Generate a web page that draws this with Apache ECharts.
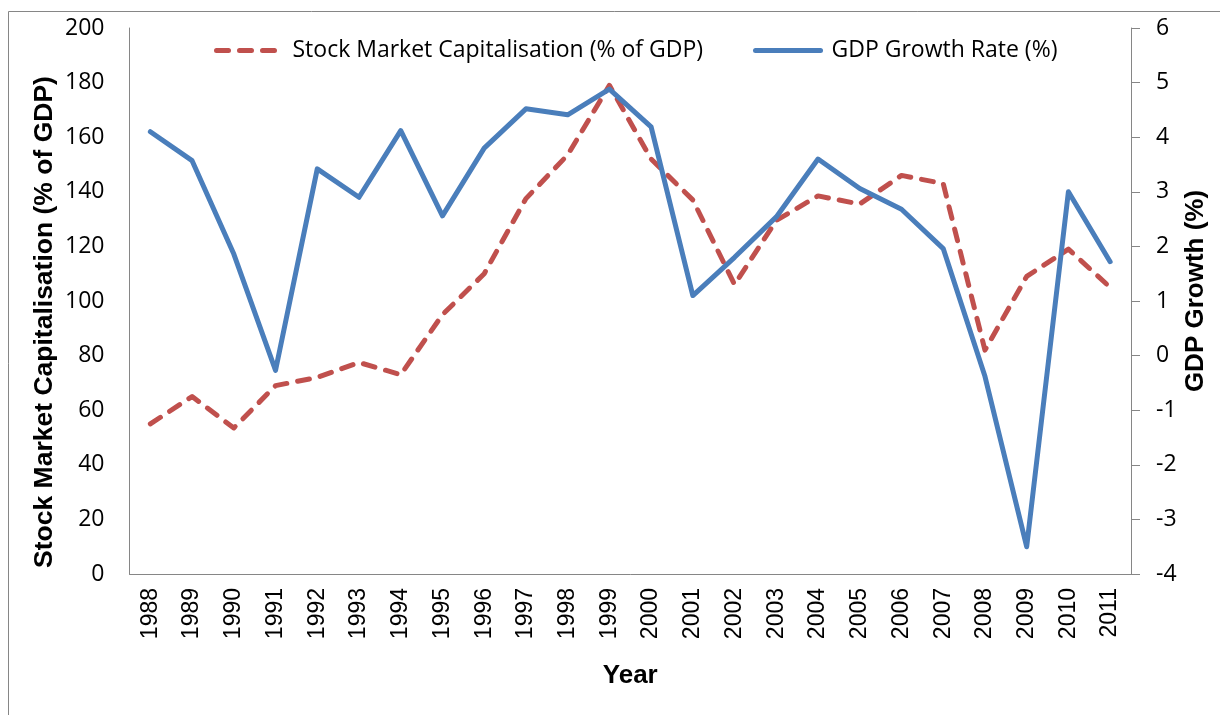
<!DOCTYPE html>
<html>
<head>
<meta charset="utf-8">
<script src="https://cdn.jsdelivr.net/npm/echarts@6/dist/echarts.min.js"></script>
<style>
html,body{margin:0;padding:0;background:#fff;}
#chart{width:1220px;height:715px;}
</style>
</head>
<body>
<div id="chart"></div>
<script>
const years = ['1988','1989','1990','1991','1992','1993','1994','1995','1996','1997','1998','1999','2000','2001','2002','2003','2004','2005','2006','2007','2008','2009','2010','2011'];
const stockCap = [55, 65, 53.5, 69, 72, 77.5, 73, 95, 110, 137.5, 153.5, 179, 152, 137, 106, 129.5, 138.5, 135.5, 146, 143, 82, 109, 119, 105];
const gdpGrowth = [4.1, 3.57, 1.86, -0.27, 3.42, 2.9, 4.12, 2.56, 3.8, 4.52, 4.41, 4.88, 4.19, 1.1, 1.8, 2.54, 3.6, 3.06, 2.68, 1.96, -0.38, -3.5, 3.0, 1.72];
const leftTicks = {min: 0, max: 200, interval: 20};
const rightTicks = {min: -4, max: 6, interval: 1};

const chart = echarts.init(document.getElementById('chart'));
const axisGray = '#868686';
chart.setOption({
  backgroundColor: '#ffffff',
  animation: false,
  graphic: [{
    type: 'rect',
    shape: {x: 8.5, y: 11.5, width: 1400, height: 900},
    style: {fill: 'none', stroke: axisGray, lineWidth: 1},
    silent: true
  }],
  legend: {
    left: 209,
    top: 34,
    itemWidth: 65,
    itemHeight: 14,
    itemGap: 50,
    itemStyle: {opacity: 0},
    lineStyle: {width: 5},
    textStyle: {fontFamily: 'Open Sans', fontSize: 23, color: '#000', padding: [0, 0, 0, 6]},
    data: ['Stock Market Capitalisation (% of GDP)', 'GDP Growth Rate (%)']
  },
  grid: {left: 129.5, right: 89, top: 28, bottom: 141, containLabel: false, outerBoundsMode: 'none'},
  xAxis: {
    type: 'category',
    data: years,
    boundaryGap: true,
    name: 'Year',
    nameLocation: 'middle',
    nameGap: 89,
    nameMoveOverlap: false,
    nameTextStyle: {fontFamily: 'Liberation Sans', fontWeight: 'bold', fontSize: 26, color: '#000'},
    axisLine: {lineStyle: {color: axisGray, width: 1}},
    axisTick: {show: false},
    axisLabel: {rotate: 90, fontFamily: 'Liberation Sans', fontSize: 23, color: '#000', margin: 14}
  },
  yAxis: [{
    type: 'value',
    min: leftTicks.min, max: leftTicks.max, interval: leftTicks.interval,
    name: 'Stock Market Capitalisation (% of GDP)',
    nameLocation: 'middle',
    nameRotate: 90,
    nameGap: 71,
    nameMoveOverlap: false,
    nameTextStyle: {fontFamily: 'Liberation Sans', fontWeight: 'bold', fontSize: 26.5, color: '#000', padding: [0, 42, 0, 0]},
    axisLine: {show: true, lineStyle: {color: axisGray, width: 1}},
    axisTick: {show: false},
    splitLine: {show: false},
    axisLabel: {fontFamily: 'Open Sans', fontSize: 23, color: '#000', margin: 25}
  }, {
    type: 'value',
    position: 'right',
    min: rightTicks.min, max: rightTicks.max, interval: rightTicks.interval,
    name: 'GDP Growth (%)',
    nameLocation: 'middle',
    nameRotate: 90,
    nameGap: 52,
    nameMoveOverlap: false,
    nameTextStyle: {fontFamily: 'Liberation Sans', fontWeight: 'bold', fontSize: 26, color: '#000', padding: [0, 0, 0, 20]},
    axisLine: {show: true, lineStyle: {color: axisGray, width: 1}},
    axisTick: {show: true, inside: false, length: 9, lineStyle: {color: axisGray, width: 1}},
    splitLine: {show: false},
    axisLabel: {fontFamily: 'Open Sans', fontSize: 23, color: '#000', margin: 25}
  }],
  series: [{
    name: 'Stock Market Capitalisation (% of GDP)',
    type: 'line',
    yAxisIndex: 0,
    data: stockCap,
    symbol: 'none',
    color: '#C0504D',
    lineStyle: {color: '#C0504D', width: 5, type: [12, 11], cap: 'round', join: 'round'},
    z: 2
  }, {
    name: 'GDP Growth Rate (%)',
    type: 'line',
    yAxisIndex: 1,
    data: gdpGrowth,
    symbol: 'none',
    color: '#4A7EBB',
    lineStyle: {color: '#4A7EBB', width: 5, cap: 'round', join: 'round'},
    z: 3
  }]
});
</script>
</body>
</html>
